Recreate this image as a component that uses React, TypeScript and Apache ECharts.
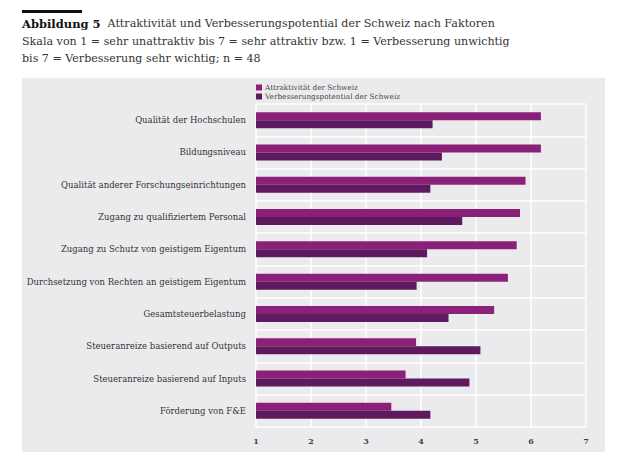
import React, { useEffect, useRef } from "react";
import * as echarts from "echarts";

const categories = [
  "Qualität der Hochschulen",
  "Bildungsniveau",
  "Qualität anderer Forschungseinrichtungen",
  "Zugang zu qualifiziertem Personal",
  "Zugang zu Schutz von geistigem Eigentum",
  "Durchsetzung von Rechten an geistigem Eigentum",
  "Gesamtsteuerbelastung",
  "Steueranreize basierend auf Outputs",
  "Steueranreize basierend auf Inputs",
  "Förderung von F&E",
];
const attraktivitaet = [6.18, 6.18, 5.9, 5.8, 5.74, 5.58, 5.33, 3.91, 3.72, 3.46];
const verbesserung = [4.21, 4.38, 4.17, 4.75, 4.11, 3.92, 4.5, 5.08, 4.88, 4.17];
const seriesNames = ["Attraktivität der Schweiz", "Verbesserungspotential der Schweiz"];
const xTicks = [1, 2, 3, 4, 5, 6, 7];

const FONT = "DejaVu Serif";

export default function App() {
  const ref = useRef<HTMLDivElement>(null);
  useEffect(() => {
    document.body.style.margin = "0";
    const chart = echarts.init(ref.current!, null, { renderer: "svg" });
    chart.setOption({
      animation: false,
      backgroundColor: "#ffffff",
      textStyle: { fontFamily: FONT },
      graphic: [
        { type: "rect", z: -100, shape: { x: 22, y: 78, width: 583, height: 374 }, style: { fill: "#ebebed" } },
        { type: "rect", shape: { x: 22, y: 10, width: 60, height: 3 }, style: { fill: "#111111" } },
        {
          type: "text",
          x: 22,
          y: 15,
          style: {
            text: "{b|Abbildung 5}  Attraktivität und Verbesserungspotential der Schweiz nach Faktoren\nSkala von 1 = sehr unattraktiv bis 7 = sehr attraktiv bzw. 1 = Verbesserung unwichtig\nbis 7 = Verbesserung sehr wichtig; n = 48",
            fontFamily: FONT,
            fontSize: 11.1,
            lineHeight: 17.5,
            fill: "#333333",
            rich: {
              b: { fontFamily: FONT, fontSize: 11.5, fontWeight: "bold", fill: "#111111", lineHeight: 17.5 },
            },
          },
        },
      ],
      legend: {
        left: 256,
        top: 84,
        orient: "vertical",
        itemWidth: 6,
        itemHeight: 6,
        itemGap: 2,
        icon: "rect",
        data: seriesNames,
        textStyle: { fontFamily: FONT, fontSize: 7.3, color: "#444444", padding: [0, 0, 0, -2] },
        padding: 0,
      },
      grid: { left: 256, right: 34, top: 104, bottom: 37, containLabel: false },
      xAxis: {
        type: "value",
        min: 1,
        max: 7,
        interval: 1,
        axisLine: { show: false },
        axisTick: { show: false },
        splitLine: { show: true, lineStyle: { color: "#ffffff", width: 1.5 } },
        axisLabel: {
          fontFamily: FONT,
          fontSize: 8,
          fontWeight: "bold",
          color: "#444444",
          margin: 10,
          formatter: (v: number) => (xTicks.includes(v) ? String(v) : ""),
        },
      },
      yAxis: {
        type: "category",
        inverse: true,
        data: categories,
        axisLine: { show: false },
        axisTick: { show: false },
        splitLine: { show: true, lineStyle: { color: "#ffffff", width: 1.5 } },
        axisLabel: { fontFamily: FONT, fontSize: 8.5, color: "#333333", margin: 10 },
      },
      series: [
        {
          name: seriesNames[0],
          type: "bar",
          data: attraktivitaet,
          barWidth: 8,
          barGap: "0%",
          itemStyle: { color: "#8b2079" },
        },
        {
          name: seriesNames[1],
          type: "bar",
          data: verbesserung,
          barWidth: 8,
          barGap: "0%",
          itemStyle: { color: "#5e1a5e" },
        },
      ],
    });
    return () => chart.dispose();
  }, []);
  return <div ref={ref} style={{ width: 620, height: 464 }} />;
}
